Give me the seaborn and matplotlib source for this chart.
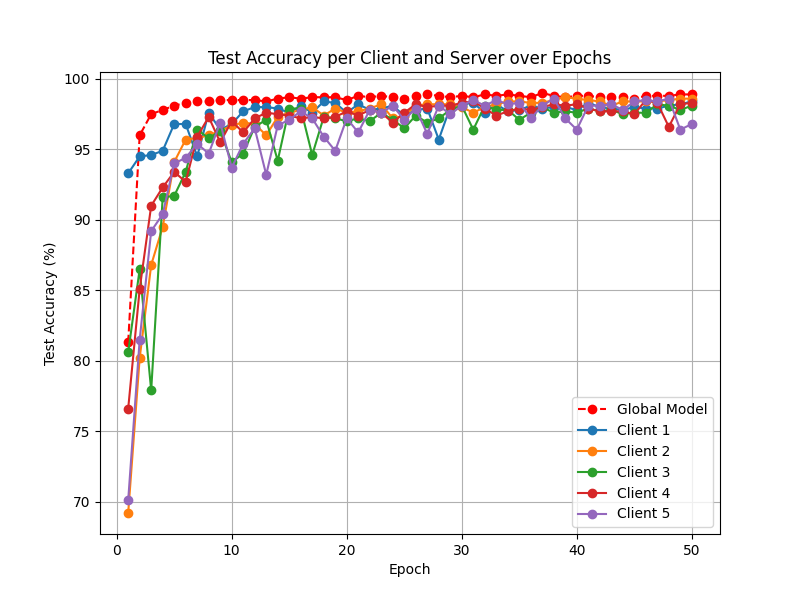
import matplotlib
matplotlib.use("Agg")
import matplotlib.pyplot as plt
import seaborn as sns

# %% data
epochs = list(range(1, 51))

global_acc = [81.3, 96.0, 97.5, 97.8, 98.1, 98.3, 98.4, 98.4, 98.5, 98.5,
              98.5, 98.5, 98.4, 98.6, 98.7, 98.6, 98.7, 98.7, 98.7, 98.5,
              98.8, 98.7, 98.8, 98.7, 98.6, 98.8, 98.9, 98.8, 98.7, 98.8,
              98.7, 98.9, 98.8, 98.9, 98.8, 98.7, 99.0, 98.8, 98.7, 98.8,
              98.8, 98.7, 98.7, 98.7, 98.6, 98.8, 98.8, 98.8, 98.9, 98.9]

client1 = [93.3, 94.5, 94.6, 94.9, 96.8, 96.8, 94.5, 97.6, 96.4, 96.8,
           97.7, 98.0, 98.0, 97.9, 97.6, 98.1, 97.6, 98.4, 98.3, 97.6,
           98.2, 97.8, 97.9, 98.1, 97.4, 97.8, 97.9, 95.7, 98.0, 98.2,
           98.3, 97.6, 98.2, 97.7, 97.8, 98.1, 97.9, 98.0, 98.0, 97.8,
           98.3, 98.0, 97.9, 97.8, 98.0, 97.9, 97.9, 98.1, 98.2, 98.4]

client2 = [69.2, 80.2, 86.8, 89.5, 94.1, 95.7, 95.8, 96.0, 96.3, 96.7,
           96.9, 96.8, 96.0, 97.3, 97.6, 97.8, 98.0, 97.4, 97.9, 97.6,
           97.7, 97.9, 98.2, 97.2, 97.4, 98.1, 98.2, 98.2, 98.2, 98.0,
           97.6, 98.0, 98.2, 98.4, 98.4, 98.3, 98.3, 98.5, 98.7, 98.6,
           98.5, 98.4, 98.1, 98.4, 98.4, 98.4, 98.4, 98.5, 98.6, 98.6]

client3 = [80.6, 86.5, 77.9, 91.6, 91.7, 93.4, 96.4, 95.8, 96.3, 94.1,
           94.7, 96.6, 97.1, 94.2, 97.9, 97.9, 94.6, 97.3, 97.2, 97.0,
           97.2, 97.0, 97.6, 97.1, 96.5, 97.4, 96.9, 97.2, 97.8, 98.1,
           96.4, 98.1, 97.8, 97.8, 97.1, 97.6, 98.0, 97.6, 97.7, 97.6,
           97.9, 97.7, 97.8, 97.5, 97.6, 97.6, 98.2, 98.1, 97.8, 98.1]

client4 = [76.6, 85.1, 91.0, 92.3, 93.4, 92.7, 95.9, 97.3, 95.5, 97.0,
           96.2, 97.2, 97.6, 97.5, 97.4, 97.2, 97.3, 97.2, 97.3, 97.7,
           97.4, 97.8, 97.6, 96.9, 97.6, 98.2, 98.0, 98.1, 98.1, 98.3,
           98.4, 97.9, 97.4, 97.7, 97.9, 97.8, 98.0, 98.2, 98.1, 98.2,
           97.9, 97.7, 97.7, 97.7, 97.5, 98.5, 98.3, 96.6, 98.2, 98.3]

client5 = [70.1, 81.5, 89.2, 90.4, 94.0, 94.4, 95.4, 94.7, 96.9, 93.7,
           95.4, 96.5, 93.2, 96.7, 97.1, 97.7, 97.2, 95.9, 94.9, 97.2,
           96.2, 97.8, 97.6, 98.1, 97.1, 97.9, 96.1, 98.1, 97.5, 98.1,
           98.5, 98.1, 98.5, 98.2, 98.3, 97.2, 98.1, 98.6, 97.2, 96.4,
           98.1, 98.1, 98.2, 97.8, 98.4, 98.5, 98.4, 98.6, 96.4, 96.8]

clients = [client1, client2, client3, client4, client5]
client_colors = ["#1f77b4", "#ff7f0e", "#2ca02c", "#d62728", "#9467bd"]

# %% plot
fig, ax = plt.subplots(figsize=(8, 6), dpi=100)

sns.lineplot(x=epochs, y=global_acc, ax=ax, color="red", linestyle="--",
             marker="o", markersize=6, markeredgecolor="red", markeredgewidth=1,
             label="Global Model")

for i, (acc, col) in enumerate(zip(clients, client_colors)):
    sns.lineplot(x=epochs, y=acc, ax=ax, color=col, marker="o", markersize=6,
                 markeredgecolor=col, markeredgewidth=1, label=f"Client {i + 1}")

ax.set_title("Test Accuracy per Client and Server over Epochs")
ax.set_xlabel("Epoch")
ax.set_ylabel("Test Accuracy (%)")
ax.grid(True)
ax.legend(loc="lower right")

fig.savefig("out.png")
